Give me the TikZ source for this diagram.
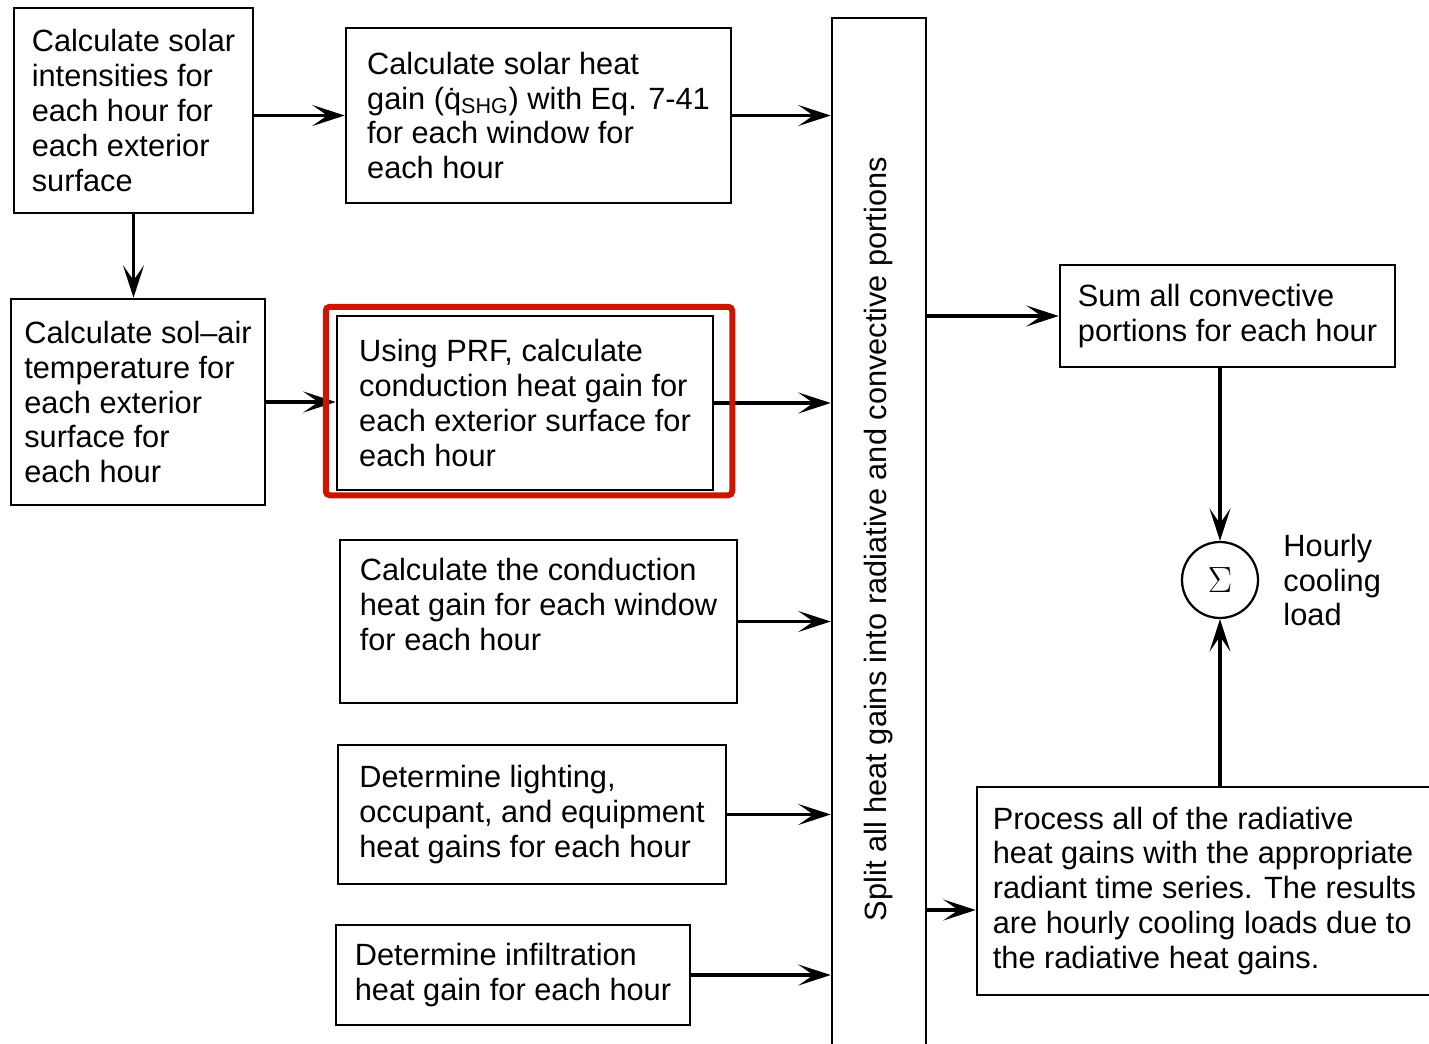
\documentclass[tikz,border=0pt]{standalone}
\usepackage{fontspec}
\setmainfont{Liberation Sans}
\usetikzlibrary{calc, positioning}
\usetikzlibrary{arrows.meta}
\definecolor{markred}{RGB}{204,20,0}

\begin{document}
\begin{tikzpicture}[x=0.2mm, y=-0.2mm,
  stepbox/.style={draw, line width=0.5mm, align=left, inner sep=0pt,
    font=\fontsize{17.5}{19.9}\selectfont},
  flow/.style={-{Stealth[length=6.5mm, width=4.2mm, inset=3mm]}, line width=0.65mm}]
\useasboundingbox (0,0) rectangle (1429,1043);
\clip (0,0) rectangle (1429,1043);

\node[stepbox, minimum width=47.8mm, minimum height=41mm] (solar) at (133.5,110.5)
  {Calculate solar\\intensities for\\each hour for\\each exterior\\surface};
\node[stepbox, minimum width=77mm, minimum height=35mm] (shg) at (538.5,115.5)
  {Calculate solar heat\\gain (\.{q}\textsubscript{SHG}) with Eq. 7-41\\for each window for\\each hour};
\node[stepbox, minimum width=50.8mm, minimum height=41.2mm] (solair) at (138,402)
  {Calculate sol--air\\temperature for\\each exterior\\surface for\\each hour};
\node[stepbox, minimum width=75.2mm, minimum height=34.8mm] (prf) at (525,403)
  {Using PRF, calculate\\conduction heat gain for\\each exterior surface for\\each hour};
\node[stepbox, minimum width=79.4mm, minimum height=32.6mm] (window) at (538.5,621.5)
  {Calculate the conduction\\heat gain for each window\\for each hour\\~};
\node[stepbox, minimum width=77.6mm, minimum height=27.8mm] (internal) at (532,814.5)
  {Determine lighting,\\occupant, and equipment\\heat gains for each hour};
\node[stepbox, minimum width=70.8mm, minimum height=20mm] (infil) at (513,975)
  {Determine infiltration\\heat gain for each hour};

\node[stepbox, rotate=90, minimum width=208.4mm, minimum height=18.8mm] (split) at (879,539)
  {Split all heat gains into radiative and convective portions};

\node[stepbox, minimum width=67mm, minimum height=20.4mm] (conv) at (1227.5,316)
  {Sum all convective\\portions for each hour};
\node[stepbox, minimum width=91mm, minimum height=41.6mm] (rad) at (1204.5,891)
  {Process all of the radiative\\heat gains with the appropriate\\radiant time series. The results\\are hourly cooling loads due to\\the radiative heat gains.};

\node[draw, circle, line width=0.45mm, minimum size=15.2mm, inner sep=0pt,
  font=\fontsize{20}{22}\selectfont] (sig) at (1220,580) {$\Sigma$};
\node[right=4.8mm of sig, align=left, inner sep=0pt,
  font=\fontsize{17.5}{19.9}\selectfont] (load) {Hourly\\cooling\\load};

\coordinate (radin) at ($(rad.west)+(0,19)$);

\draw[flow] (shg.west -| solar.east) -- (shg.west);
\draw[flow] (solar.south) -- (solar.south |- solair.north);
\draw[flow] (solair.east) -- (solair.east -| prf.west);

\draw[flow] (shg.east) -- (shg.east -| split.north);
\draw[flow] (prf.east) -- (prf.east -| split.north);
\draw[flow] (window.east) -- (window.east -| split.north);
\draw[flow] (internal.east) -- (internal.east -| split.north);
\draw[flow] (infil.east) -- (infil.east -| split.north);

\draw[flow] (conv.west -| split.south) -- (conv.west);
\draw[flow] (radin -| split.south) -- (radin);

\draw[flow] (sig.north |- conv.south) -- (sig.north);
\draw[flow] (sig.south |- rad.north) -- (sig.south);

\draw[markred, line width=1.2mm, rounded corners=0.8mm]
  ($(prf.north west)+(-10,-8)$) rectangle ($(prf.south east)+(18,4)$);
\end{tikzpicture}
\end{document}
